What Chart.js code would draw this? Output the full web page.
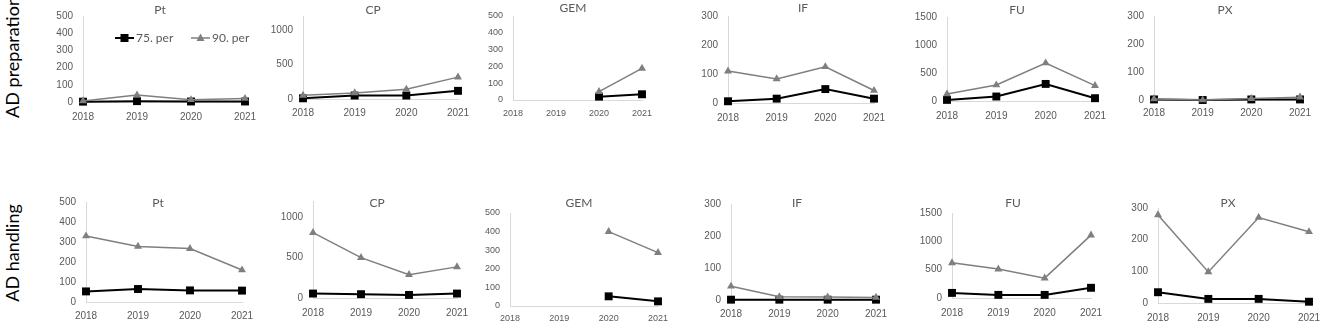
<!DOCTYPE html>
<html>
<head>
<meta charset="utf-8">
<script src="https://cdn.jsdelivr.net/npm/chart.js@4"></script>
<style>
  html, body { margin: 0; padding: 0; background: #fff; }
  body { position: relative; width: 1325px; height: 325px; overflow: hidden; }
  canvas { position: absolute; }
  .row-label {
    position: absolute;
    font-family: Lato, sans-serif;
    font-size: 18px;
    color: #000;
    white-space: nowrap;
    transform: translate(-50%, -50%) rotate(-90deg);
  }
</style>
</head>
<body>
<script>
// ---- data ----
const years = ["2018", "2019", "2020", "2021"];
const drugs = ["Pt", "CP", "GEM", "IF", "FU", "PX"];
const rowNames = ["AD preparation", "AD handling"];
const seriesNames = ["75. per", "90. per"];

// one inner array per drug, same order as `drugs`
const prep75 = [
  [2, 5, 3, 3],
  [10, 50, 50, 118],
  [null, null, 20, 34],
  [6, 15, 48, 15],
  [20, 80, 305, 50],
  [2, 0, 2, 2],
];
const prep90 = [
  [6, 40, 13, 20],
  [53, 88, 140, 316],
  [null, null, 50, 188],
  [110, 83, 125, 43],
  [125, 286, 679, 275],
  [4, 0, 5, 10],
];
const hand75 = [
  [53, 65, 58, 57],
  [55, 47, 38, 55],
  [null, null, 52, 25],
  [1, 1, 1, 1],
  [90, 55, 55, 180],
  [34, 13, 13, 4],
];
const hand90 = [
  [330, 278, 267, 160],
  [809, 500, 288, 385],
  [null, null, 400, 287],
  [43, 10, 9, 8],
  [620, 510, 350, 1110],
  [278, 98, 270, 225],
];

// y axis range and tick step per drug
const yMax = [500, 1200, 500, 300, 1500, 300];
const yStep = [100, 500, 100, 100, 500, 100];

// ---- layout (page pixels) ----
const YW = 45; // y axis box width
const XH = 30; // x axis box height
const PR = 22; // right padding
const rowTops = [0, 185];
// [left, right, top, bottom, titleX, titleY, labelPad, fontSize]
const layoutPrep = [
  [83, 245, 15, 102, 160, 10, 9, 10],
  [303, 458, 7, 99, 373, 10, 8, 10],
  [513, 642, 16, 100, 573, 8, 8, 9],
  [728, 874, 14, 103, 803, 8, 9, 10],
  [947, 1095, 17, 101, 1017, 10, 9, 10],
  [1154, 1300, 15, 100, 1225, 10, 7, 10],
];
const layoutHand = [
  [86, 242, 202, 302, 158, 203, 8, 10],
  [313, 457, 201, 298, 377, 203, 9, 10],
  [510, 658, 213, 306, 579, 203, 7, 9],
  [731, 876, 204, 300, 797, 203, 8, 10],
  [952, 1091, 213, 298, 1013, 203, 9, 10],
  [1158, 1309, 208, 303, 1228, 203, 9, 10],
];
const rowLabelPos = [[12, 57], [12, 253]];

const black = "#000000";
const grey = "#7f7f7f";
const textGrey = "#595959";
const axisGrey = "#d9d9d9";

// title drawn inside the panel, Excel style
const panelTitle = {
  id: "panelTitle",
  afterDraw(chart, args, opts) {
    const ctx = chart.ctx;
    ctx.save();
    ctx.font = `${opts.size}px Lato, sans-serif`;
    ctx.fillStyle = textGrey;
    ctx.textAlign = "center";
    ctx.textBaseline = "middle";
    ctx.fillText(opts.text, opts.x, opts.y);
    ctx.restore();
  },
};

function marker(ctx, style, x, y) {
  ctx.beginPath();
  if (style === "rect") {
    ctx.fillStyle = black;
    ctx.fillRect(x - 4, y - 4, 8, 8);
  } else {
    ctx.fillStyle = grey;
    ctx.moveTo(x, y - 4.5);
    ctx.lineTo(x + 4, y + 3);
    ctx.lineTo(x - 4, y + 3);
    ctx.closePath();
    ctx.fill();
  }
}

// legend with line-through-marker symbols, only on the first panel
const lineLegend = {
  id: "lineLegend",
  afterDraw(chart, args, opts) {
    if (!opts.show) return;
    const { ctx, chartArea } = chart;
    const y = chartArea.top + 22;
    const items = [
      { x: chartArea.left + 32, ds: chart.data.datasets[0] },
      { x: chartArea.left + 108, ds: chart.data.datasets[1] },
    ];
    ctx.save();
    for (const it of items) {
      ctx.strokeStyle = it.ds.borderColor;
      ctx.lineWidth = it.ds.borderWidth;
      ctx.beginPath();
      ctx.moveTo(it.x, y);
      ctx.lineTo(it.x + 19, y);
      ctx.stroke();
      marker(ctx, it.ds.pointStyle, it.x + 9.5, y);
      ctx.fillStyle = textGrey;
      ctx.font = "12px Lato, sans-serif";
      ctx.textAlign = "left";
      ctx.textBaseline = "middle";
      ctx.fillText(it.ds.label, it.x + 21, y);
    }
    ctx.restore();
  },
};

function makePanel(row, i, v75, v90, lay) {
  const [L, R, T, B, tx, ty, labelPad, fs] = lay;
  const rt = rowTops[row];
  const canvas = document.createElement("canvas");
  const left = L - YW;
  canvas.width = YW + (R - L) + PR;
  canvas.height = B - rt + XH;
  canvas.style.left = left + "px";
  canvas.style.top = rt + "px";
  document.body.appendChild(canvas);

  // eslint-disable-next-line no-new
  new Chart(canvas, {
    type: "line",
    plugins: [panelTitle, lineLegend],
    data: {
      labels: years,
      datasets: [
        {
          label: seriesNames[0],
          data: v75,
          borderColor: black,
          backgroundColor: black,
          borderWidth: 2,
          pointStyle: "rect",
          pointRadius: 5.6,
          pointBorderWidth: 0,
          order: 2,
          clip: false,
        },
        {
          label: seriesNames[1],
          data: v90,
          borderColor: grey,
          backgroundColor: grey,
          borderWidth: 1.5,
          pointStyle: "triangle",
          pointRadius: 4.6,
          pointBorderWidth: 0,
          order: 1,
          clip: false,
        },
      ],
    },
    options: {
      responsive: false,
      animation: false,
      events: [],
      layout: { padding: { top: T - rt, right: PR, left: 0, bottom: 0 } },
      plugins: {
        legend: { display: false },
        tooltip: { enabled: false },
        panelTitle: { text: drugs[i], x: tx - left, y: ty - rt, size: 12 },
        lineLegend: { show: row === 0 && i === 0 },
      },
      scales: {
        x: {
          offset: false,
          ticks: {
            color: textGrey,
            padding: labelPad,
            maxRotation: 0,
            autoSkip: false,
            font: { size: fs },
          },
          grid: { display: false, drawTicks: false },
          border: { display: true, color: axisGrey, width: 1 },
          afterFit: (s) => { s.height = XH; },
        },
        y: {
          min: 0,
          max: yMax[i],
          ticks: {
            color: textGrey,
            padding: 10,
            font: { size: fs },
            callback: (v) => String(v),
          },
          // Excel-style major unit, even when it does not divide the max
          afterBuildTicks: (s) => {
            const t = [];
            for (let v = 0; v <= yMax[i]; v += yStep[i]) t.push({ value: v });
            s.ticks = t;
          },
          grid: { display: false, drawTicks: false },
          border: { display: true, color: axisGrey, width: 1 },
          afterFit: (s) => { s.width = YW; },
        },
      },
    },
  });
}

drugs.forEach((d, i) => {
  makePanel(0, i, prep75[i], prep90[i], layoutPrep[i]);
  makePanel(1, i, hand75[i], hand90[i], layoutHand[i]);
});

rowNames.forEach((name, r) => {
  const div = document.createElement("div");
  div.className = "row-label";
  div.textContent = name;
  div.style.left = rowLabelPos[r][0] + "px";
  div.style.top = rowLabelPos[r][1] + "px";
  document.body.appendChild(div);
});
</script>
</body>
</html>
